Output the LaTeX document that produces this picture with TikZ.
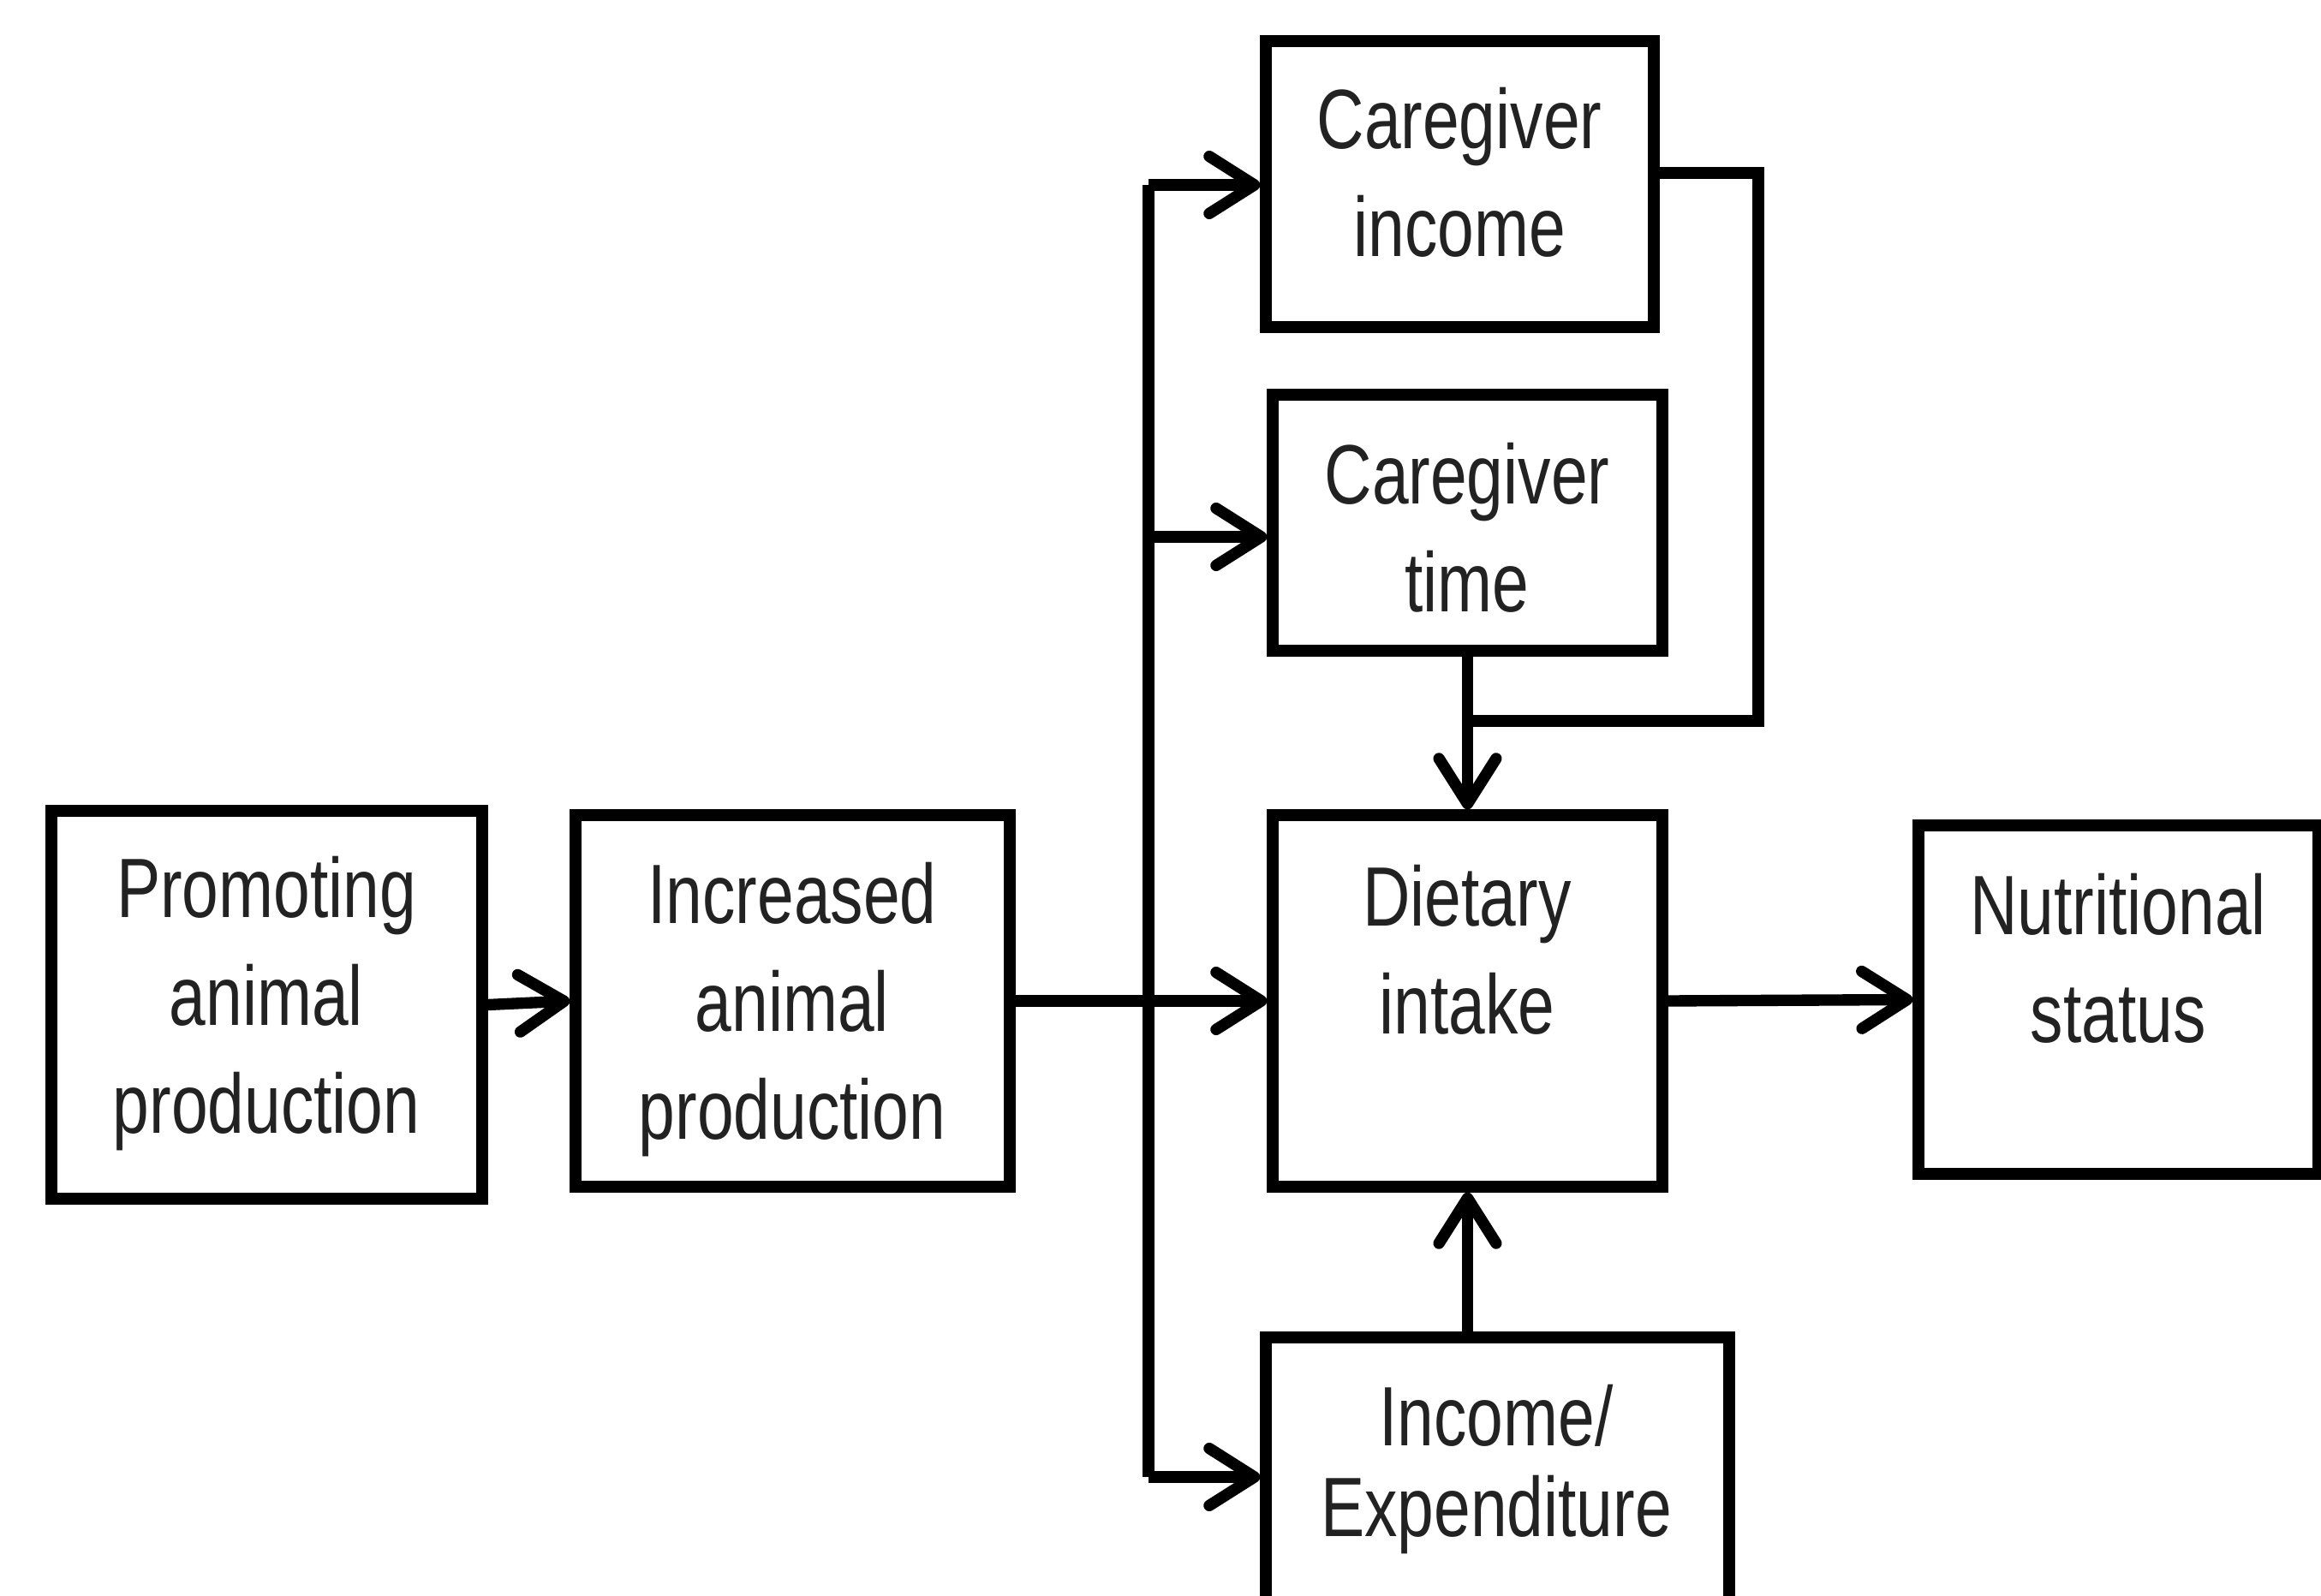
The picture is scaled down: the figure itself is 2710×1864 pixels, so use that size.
\documentclass[tikz,border=0pt]{standalone}
\usepackage{fontspec}
\newfontfamily\lab{Liberation Sans}[FakeStretch=0.78]
\usetikzlibrary{arrows.meta}
\definecolor{txt}{HTML}{222222}
\tikzset{
  box/.style={draw=black, line width=3.8pt, inner sep=0pt, fill=none},
  lbl/.style={font=\lab\fontsize{28pt}{35.9pt}\selectfont, align=center, text=txt, inner sep=0pt},
  conn/.style={draw=black, line width=3.8pt},
  arr/.style={conn, -{Straight Barb[length=15pt, width=19pt, round]}}
}
\begin{document}
\begin{tikzpicture}[x=0.1mm, y=-0.1mm]
\useasboundingbox (0,0) rectangle (2710,1864);
% boxes (centres and sizes in px)
\node[box, minimum width=503*0.1mm, minimum height=453*0.1mm] (prom) at (311.5,1173.5) {};
\node[box, minimum width=507*0.1mm, minimum height=434*0.1mm] (inc) at (925.5,1169) {};
\node[box, minimum width=453*0.1mm, minimum height=334*0.1mm] (cinc) at (1704.5,215) {};
\node[box, minimum width=455*0.1mm, minimum height=299*0.1mm] (ctime) at (1713.5,610.5) {};
\node[box, minimum width=455*0.1mm, minimum height=434*0.1mm] (diet) at (1713.5,1169) {};
\node[box, minimum width=467*0.1mm, minimum height=407*0.1mm] (nut) at (2473.5,1167.5) {};
\node[box, minimum width=541*0.1mm, minimum height=340*0.1mm] (ie) at (1748.5,1732) {};
% labels
\node[lbl] (promT) at (311,1172) {Promoting\\animal\\production};
\node[lbl] (incT) at (925,1179) {Increased\\animal\\production};
\node[lbl] (cincT) at (1704,201) {Caregiver\\income};
\node[lbl] (ctimeT) at (1713,616) {Caregiver\\time};
\node[lbl] (dietT) at (1713,1109) {Dietary\\intake};
\node[lbl] (nutT) at (2473,1119) {Nutritional\\status};
\node[lbl, font=\lab\fontsize{28pt}{30.4pt}\selectfont] (ieT) at (1747,1716) {Income/\\Expenditure};
% trunk coordinates
\coordinate (ttop) at (1341,216);
\coordinate (tmid) at (1341,627);
\coordinate (tbot) at (1341,1725);
\coordinate (r1) at (2053,202);
\coordinate (r2) at (2053,842);
\coordinate (r3) at (1713.5,842);
% connectors
\draw[arr] (prom.east) -- (inc.west);
\draw[arr] (inc.east) -- (diet.west);
\draw[conn] (ttop) -- (tbot);
\draw[arr] (ttop) -- (ttop -| cinc.west);
\draw[arr] (tmid) -- (tmid -| ctime.west);
\draw[arr] (tbot) -- (tbot -| ie.west);
\draw[conn] (r1 -| cinc.east) -- (r1) -- (r2) -- (r3);
\draw[arr] (ctime.south) -- (diet.north);
\draw[arr] (ie.north -| diet.south) -- (diet.south);
\draw[arr] (diet.east) -- (nut.west);
\end{tikzpicture}
\end{document}
